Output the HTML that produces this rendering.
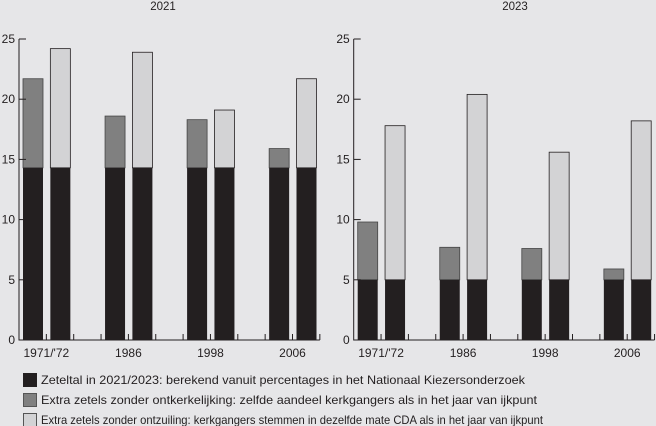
<!DOCTYPE html>
<html><head><meta charset="utf-8"><style>
html,body{margin:0;padding:0;background:#e6e6e8;}
svg{display:block;font-family:"Liberation Sans",sans-serif;}
</style></head><body>
<svg id="chart" width="656" height="426" viewBox="0 0 656 426">
<rect width="656" height="426" fill="#e6e6e8"/>
<g id="legend">
<g><rect x="23.5" y="373.5" width="13" height="13" fill="#231f20" stroke="#231f20"/><text x="41" y="384" font-size="12" fill="#231f20" textLength="484" lengthAdjust="spacingAndGlyphs">Zeteltal in 2021/2023: berekend vanuit percentages in het Nationaal Kiezersonderzoek</text></g>
<g><rect x="23.5" y="393.5" width="13" height="13" fill="#808080" stroke="#555"/><text x="41" y="404" font-size="12" fill="#231f20" textLength="496" lengthAdjust="spacingAndGlyphs">Extra zetels zonder ontkerkelijking: zelfde aandeel kerkgangers als in het jaar van ijkpunt</text></g>
<g><rect x="23.5" y="413.5" width="13" height="13" fill="#d3d3d5" stroke="#555"/><text x="41" y="424" font-size="12" fill="#231f20" textLength="502" lengthAdjust="spacingAndGlyphs">Extra zetels zonder ontzuiling: kerkgangers stemmen in dezelfde mate CDA als in het jaar van ijkpunt</text></g>
</g>
</svg>
<script>
const categories = ["1971/'72", "1986", "1998", "2006"];
const panelTitles = ["2021", "2023"];
const base2021 = [14.3, 14.3, 14.3, 14.3];
const dark2021 = [21.7, 18.6, 18.3, 15.9];
const light2021 = [24.2, 23.9, 19.1, 21.7];
const base2023 = [5, 5, 5, 5];
const dark2023 = [9.8, 7.7, 7.6, 5.9];
const light2023 = [17.8, 20.4, 15.6, 18.2];
const yTicks = [0, 5, 10, 15, 20, 25];

const NS = "http://www.w3.org/2000/svg";
const svg = document.getElementById('chart');
function mk(tag, attrs, parent){
  const e = document.createElementNS(NS, tag);
  for (const k in attrs) e.setAttribute(k, attrs[k]);
  parent.appendChild(e);
  return e;
}
const panels = [
  {x0: 19, base: base2021, dark: dark2021, light: light2021, title: panelTitles[0], tx: 163},
  {x0: 353.7, base: base2023, dark: dark2023, light: light2023, title: panelTitles[1], tx: 515}
];
const yTop = 39, yBot = 340, yMax = 25;
const slot = 27.35;
function yS(v){ return yBot - (v / yMax) * (yBot - yTop); }

panels.forEach((p, pi) => {
  const g = mk('g', {}, svg);
  
  
  const t = mk('text', {x: p.tx, y: 10, 'font-size': 11.5, 'text-anchor': 'middle', fill: '#231f20'}, g);
  t.textContent = p.title;
  
  
  const xEnd = p.x0 + slot * 11;
  categories.forEach((c, i) => {
    const sx = p.x0 + slot * (3 * i);
    const bw = 20;
    const b1x = sx + 4, b2x = sx + slot + 4;
    const r1 = mk('rect', {x: b1x, y: yS(p.dark[i]), width: bw, height: yS(p.base[i]) - yS(p.dark[i]), fill: '#808080', stroke: '#444', 'stroke-width': 0.8}, g);
    
    
    const r2 = mk('rect', {x: b2x, y: yS(p.light[i]), width: bw, height: yS(p.base[i]) - yS(p.light[i]), fill: '#d3d3d5', stroke: '#231f20', 'stroke-width': 0.8}, g);
    
    
    [b1x, b2x].forEach(bx => {
      const r = mk('rect', {x: bx, y: yS(p.base[i]), width: bw, height: yBot - yS(p.base[i]), fill: '#231f20'}, g);
      
      
    });
    const lb = mk('text', {x: sx + slot, y: 357, 'font-size': 12, 'text-anchor': 'middle', fill: '#231f20'}, g);
    lb.textContent = c;
    
    
  });
  const ax = mk('path', {d: `M${p.x0} ${yTop}V${yBot}H${xEnd}`, stroke: '#231f20', 'stroke-width': 1, fill: 'none'}, g);
  
  
  for (let k = 1; k <= 11; k++) {
    const xx = p.x0 + slot * k;
    const tk = mk('line', {x1: xx, x2: xx, y1: yBot, y2: yBot - 6, stroke: '#231f20', 'stroke-width': 1}, g);
    
    
  }
  yTicks.forEach(v => {
    const tk = mk('line', {x1: p.x0, x2: p.x0 + 7, y1: yS(v), y2: yS(v), stroke: '#231f20', 'stroke-width': 1}, g);
    
    
    const tl = mk('text', {x: p.x0 - 4, y: yS(v) + 4, 'font-size': 12, 'text-anchor': 'end', fill: '#231f20'}, g);
    tl.textContent = v;
    
    
  });
});
</script>
</body></html>
